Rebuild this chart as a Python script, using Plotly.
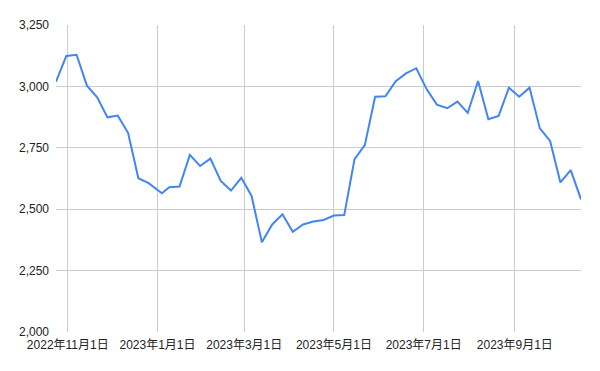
import plotly.graph_objects as go

dates = [
    "2022-10-24", "2022-10-31", "2022-11-07", "2022-11-14", "2022-11-21", "2022-11-28",
    "2022-12-05", "2022-12-12", "2022-12-19", "2022-12-26", "2023-01-04", "2023-01-09",
    "2023-01-16", "2023-01-23", "2023-01-30", "2023-02-06", "2023-02-13", "2023-02-20",
    "2023-02-27", "2023-03-06", "2023-03-13", "2023-03-20", "2023-03-27", "2023-04-03",
    "2023-04-10", "2023-04-17", "2023-04-24", "2023-05-01", "2023-05-08", "2023-05-15",
    "2023-05-22", "2023-05-29", "2023-06-05", "2023-06-12", "2023-06-19", "2023-06-26",
    "2023-07-03", "2023-07-10", "2023-07-17", "2023-07-24", "2023-07-31", "2023-08-07",
    "2023-08-14", "2023-08-21", "2023-08-28", "2023-09-04", "2023-09-11", "2023-09-18",
    "2023-09-25", "2023-10-02", "2023-10-09", "2023-10-16",
]
values = [
    3019, 3124, 3129, 3003, 2956, 2874,
    2881, 2811, 2626, 2606, 2565, 2589,
    2592, 2721, 2676, 2706, 2615, 2576,
    2628, 2554, 2365, 2438, 2479, 2408,
    2438, 2450, 2456, 2474, 2476, 2704,
    2761, 2958, 2960, 3021, 3053, 3074,
    2989, 2926, 2911, 2938, 2892, 3022,
    2866, 2880, 2995, 2958, 2995, 2829,
    2778, 2609, 2659, 2540,
]
x_tick_vals = ["2022-11-01", "2023-01-01", "2023-03-01", "2023-05-01", "2023-07-01", "2023-09-01"]
x_tick_text = ["2022年11月1日", "2023年1月1日", "2023年3月1日", "2023年5月1日", "2023年7月1日", "2023年9月1日"]
y_tick_vals = [2000, 2250, 2500, 2750, 3000, 3250]

fig = go.Figure()
fig.add_trace(go.Scatter(
    x=dates, y=values, mode="lines",
    line=dict(color="#4285F4", width=2),
    hoverinfo="skip",
))

font_family = "Arial, 'Liberation Sans', 'Noto Sans CJK JP', sans-serif"
fig.update_layout(
    width=600, height=371,
    margin=dict(l=56, r=19, t=25, b=39),
    paper_bgcolor="white", plot_bgcolor="white",
    showlegend=False,
    font=dict(family=font_family, size=12, color="#222222"),
    xaxis=dict(
        type="date",
        range=[dates[0], dates[-1]],
        tickmode="array", tickvals=x_tick_vals, ticktext=x_tick_text,
        showgrid=True, gridcolor="#cccccc", gridwidth=1,
        zeroline=False, showline=False, ticks="",
        ticklabelstandoff=4,
    ),
    yaxis=dict(
        range=[2000, 3250],
        tickmode="array", tickvals=y_tick_vals,
        tickformat=",d",
        showgrid=True, gridcolor="#cccccc", gridwidth=1,
        zeroline=False, showline=False, ticks="",
        ticklabelstandoff=6,
    ),
)

fig.write_html("out.html")
